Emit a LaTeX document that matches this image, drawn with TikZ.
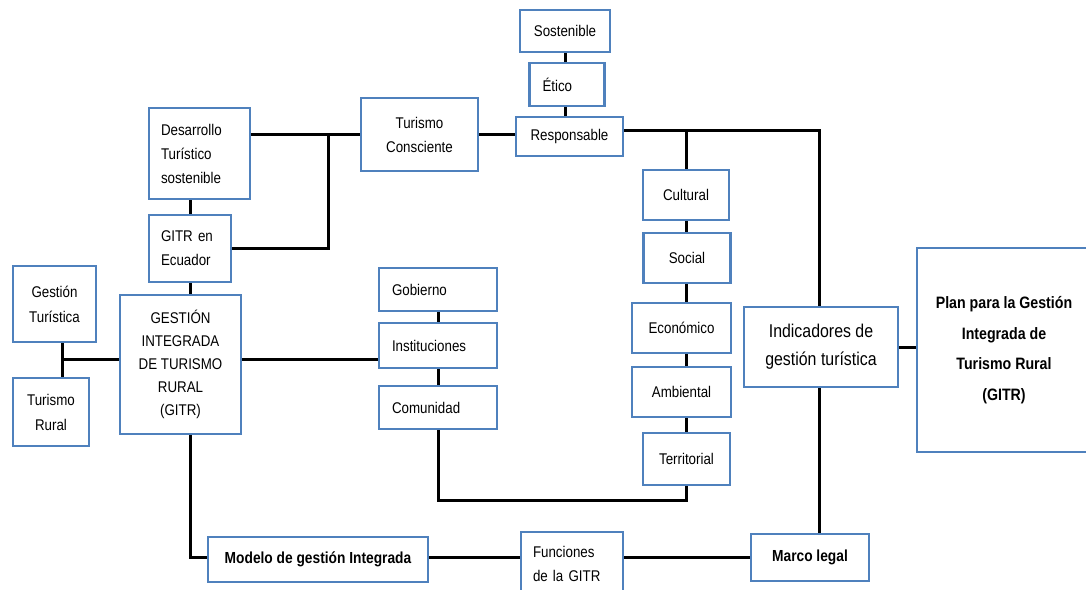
\documentclass[tikz,border=0pt]{standalone}
\usepackage{fontspec}
\setmainfont{Liberation Sans}[FakeStretch=0.86]
\definecolor{boxblue}{RGB}{79,129,189}
\begin{document}
\begin{tikzpicture}[x=1pt,y=-1pt]
	\tikzstyle{box}=[shape=rectangle,draw=boxblue,line width=2.4pt,fill=white,inner sep=0pt,align=center,font=\fontsize{15.5}{24}\selectfont]
	\tikzstyle{lbox}=[box,align=left]
	\tikzstyle{link}=[draw=black,line width=3pt]

	\useasboundingbox (0,0) rectangle (1086,589);

	%%% top column
	\node (sost) at (565,31) [box, minimum width=90, minimum height=42] {Sostenible};
	\node (etico) at (567,84.5) [lbox, minimum width=75, minimum height=43, text width=49] {Ético};
	\node (resp) at (569.5,136.5) [box, minimum width=107, minimum height=39] {Responsable};
	\node (consc) at (419.5,134.5) [box, minimum width=117, minimum height=73] {Turismo\\Consciente};

	%%% left side
	\node (desa) at (199.5,153.5) [lbox, minimum width=101, minimum height=91, text width=77] {Desarrollo\\Turístico\\sostenible};
	\node (ecua) at (190,248.5) [lbox, minimum width=82, minimum height=67, text width=58] {GITR en\\Ecuador};
	\node (gturist) at (54.5,304) [box, minimum width=83, minimum height=76, font=\fontsize{15.5}{25}\selectfont] {Gestión\\Turística};
	\node (trural) at (51,412) [box, minimum width=76, minimum height=68, font=\fontsize{15.5}{25}\selectfont] {Turismo\\Rural};
	\node (gitr) at (180.5,364.5) [box, minimum width=121, minimum height=139, font=\fontsize{15.5}{23}\selectfont] {GESTIÓN\\INTEGRADA\\DE TURISMO\\RURAL\\(GITR)};

	%%% actors
	\node (gob) at (438,289.5) [lbox, minimum width=118, minimum height=43, text width=92] {Gobierno};
	\node (inst) at (438,345.5) [lbox, minimum width=118, minimum height=45, text width=92] {Instituciones};
	\node (comu) at (438,407.5) [lbox, minimum width=118, minimum height=43, text width=92] {Comunidad};

	%%% dimensions
	\node (cult) at (686,195) [box, minimum width=86, minimum height=50] {Cultural};
	\node (soc) at (687,258) [box, minimum width=87, minimum height=50] {Social};
	\node (econ) at (681.5,328) [box, minimum width=99, minimum height=50] {Económico};
	\node (amb) at (681.5,392) [box, minimum width=99, minimum height=50] {Ambiental};
	\node (terr) at (686.5,459) [box, minimum width=87, minimum height=52] {Territorial};

	%%% right side
	\node (indic) at (821,347) [box, minimum width=154, minimum height=80, font=\fontsize{18.5}{28}\selectfont] {Indicadores de\\gestión turística};
	\node (plan) at (1004,350) [box, minimum width=174, minimum height=204, font=\bfseries\fontsize{16.5}{30.5}\selectfont] {Plan para la Gestión\\Integrada de\\Turismo Rural\\(GITR)};

	%%% bottom row
	\node (model) at (318,559.5) [box, minimum width=220, minimum height=45, font=\bfseries\fontsize{16}{24}\selectfont] {Modelo de gestión Integrada};
	\node (func) at (572,563.5) [lbox, minimum width=102, minimum height=63, text width=78] {Funciones\\de la GITR};
	\node (marco) at (810,557.5) [box, minimum width=118, minimum height=47, font=\bfseries\fontsize{16}{24}\selectfont] {Marco legal};

	\coordinate (jA) at (328,134.5);
	\coordinate (jB) at (62,359);
	\coordinate (jC) at (819,130);

	%%%
	\draw[link] (sost.south) -- (sost.south |- etico.north);
	\draw[link] (sost.south |- etico.south) -- (sost.south |- resp.north);
	\draw[link] (consc.east) -- (consc.east -| resp.west);
	\draw[link] (desa.east |- consc.west) -- (consc.west);
	\draw[link] (ecua.east) -| (jA);
	\draw[link] (ecua.north) -- (ecua.north |- desa.south);
	\draw[link] (ecua.south) -- (ecua.south |- gitr.north);

	%%%
	\draw[link] (gturist.south -| jB) -- (trural.north -| jB);
	\draw[link] (jB) -- (jB -| gitr.west);
	\draw[link] (jB -| gitr.east) -- (jB -| inst.west);
	\draw[link] (gob.south) -- (inst.north);
	\draw[link] (inst.south) -- (comu.north);
	\draw[link] (comu.south) -- ++(0,70) -| (terr.south);

	%%%
	\draw[link] (jC -| resp.east) -- (jC) -- (jC |- indic.north);
	\draw[link] (jC -| cult.north) -- (cult.north);
	\draw[link] (cult.south) -- (cult.south |- soc.north);
	\draw[link] (cult.south |- soc.south) -- (cult.south |- econ.north);
	\draw[link] (cult.south |- econ.south) -- (cult.south |- amb.north);
	\draw[link] (cult.south |- amb.south) -- (cult.south |- terr.north);
	\draw[link] (indic.east) -- (indic.east -| plan.west);
	\draw[link] (jC |- indic.south) -- (jC |- marco.north);

	%%%
	\draw[link] (ecua.south |- gitr.south) |- (model.west |- marco.west);
	\draw[link] (model.east |- marco.west) -- (func.west |- marco.west);
	\draw[link] (func.east |- marco.west) -- (marco.west);
\end{tikzpicture}
\end{document}
